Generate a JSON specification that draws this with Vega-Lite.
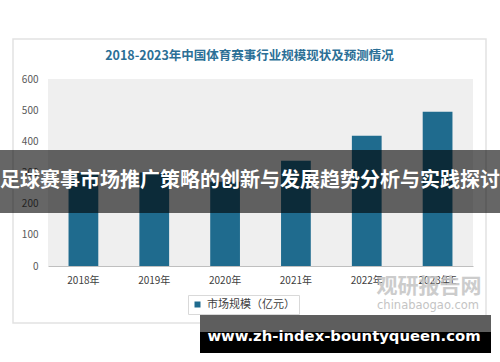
{
  "$schema": "https://vega.github.io/schema/vega-lite/v6.json",
  "width": 425,
  "height": 187,
  "autosize": {"type": "none"},
  "padding": {"left": 48, "top": 79, "right": 27, "bottom": 96},
  "background": "white",
  "title": {
    "text": "2018-2023年中国体育赛事行业规模现状及预测情况",
    "anchor": "middle",
    "dx": -11,
    "offset": -24,
    "fontSize": 12.5,
    "font": "Noto Sans CJK SC",
    "fontWeight": "bold",
    "color": "#2b6f96"
  },
  "config": {
    "view": {"fill": "#efefef", "stroke": null},
    "font": "Noto Sans CJK SC"
  },
  "data": {
    "values": [
      {"year": "2018年", "value": 298},
      {"year": "2019年", "value": 300},
      {"year": "2020年", "value": 270},
      {"year": "2021年", "value": 338},
      {"year": "2022年", "value": 418},
      {"year": "2023年E", "value": 495}
    ]
  },
  "layer": [
    {
      "data": {"values": [{}]},
      "mark": {"type": "rect", "fill": "transparent", "stroke": "#e2e2e2", "strokeWidth": 1.5},
      "encoding": {
        "x": {"value": -35}, "x2": {"value": 438},
        "y": {"value": -40}, "y2": {"value": 244}
      }
    },
    {
      "mark": {"type": "bar", "fill": "#1f6b8e"},
      "encoding": {
        "x": {
          "field": "year", "type": "ordinal", "sort": null,
          "scale": {"paddingInner": 0.58, "paddingOuter": 0.29},
          "axis": {
            "title": null, "labelAngle": 0, "ticks": false,
            "domainColor": "#bfbfbf", "domainWidth": 1,
            "labelFontSize": 10, "labelColor": "#404040", "labelPadding": 9
          }
        },
        "y": {
          "field": "value", "type": "quantitative",
          "scale": {"domain": [0, 600], "nice": false},
          "axis": {
            "title": null, "values": [0, 100, 200, 300, 400, 500, 600],
            "grid": false, "ticks": false, "domain": false,
            "labelFontSize": 10, "labelColor": "#595959", "labelPadding": 10
          }
        },
        "color": {
          "datum": "市场规模（亿元）",
          "scale": {"range": ["#1f6b8e"]},
          "legend": {
            "title": null, "orient": "none", "legendX": 140, "legendY": 216,
            "symbolType": "square", "symbolSize": 36,
            "labelFontSize": 11, "labelColor": "#404040",
            "padding": 4, "strokeColor": "#d9d9d9", "fillColor": "white"
          }
        }
      }
    },
    {
      "data": {"values": [{}]},
      "mark": {"type": "rect", "fill": "black", "opacity": 0.6},
      "encoding": {
        "x": {"value": -48}, "x2": {"value": 452},
        "y": {"value": 71}, "y2": {"value": 134}
      }
    },
    {
      "data": {"values": [{"t": "足球赛事市场推广策略的创新与发展趋势分析与实践探讨"}]},
      "mark": {"type": "text", "color": "white", "fontSize": 20, "fontWeight": "bold", "align": "center", "baseline": "middle", "font": "Noto Sans CJK SC"},
      "encoding": {
        "text": {"field": "t"},
        "x": {"value": 202}, "y": {"value": 102}
      }
    },
    {
      "data": {"values": [{"t": "观研报告网"}]},
      "mark": {"type": "text", "color": "#c4c4c4", "fontSize": 21, "fontWeight": "bold", "align": "center", "baseline": "middle", "opacity": 0.85},
      "encoding": {
        "text": {"field": "t"},
        "x": {"value": 381}, "y": {"value": 208}
      }
    },
    {
      "data": {"values": [{"t": "chinabaogao.com"}]},
      "mark": {"type": "text", "color": "#c4c4c4", "fontSize": 11.5, "align": "center", "baseline": "middle", "font": "DejaVu Sans"},
      "encoding": {
        "text": {"field": "t"},
        "x": {"value": 380}, "y": {"value": 227}
      }
    },
    {
      "data": {"values": [{}]},
      "mark": {"type": "rect", "fill": "#5e5e5e"},
      "encoding": {
        "x": {"value": 152}, "x2": {"value": 443},
        "y": {"value": 236}, "y2": {"value": 253}
      }
    },
    {
      "data": {"values": [{}]},
      "mark": {"type": "rect", "fill": "black"},
      "encoding": {
        "x": {"value": 152}, "x2": {"value": 443},
        "y": {"value": 253}, "y2": {"value": 274}
      }
    },
    {
      "data": {"values": [{"t": "www.zh-index-bountyqueen.com"}]},
      "mark": {"type": "text", "color": "white", "fontSize": 14.8, "fontWeight": "bold", "align": "center", "baseline": "middle", "font": "DejaVu Sans"},
      "encoding": {
        "text": {"field": "t"},
        "x": {"value": 296}, "y": {"value": 258}
      }
    }
  ]
}
